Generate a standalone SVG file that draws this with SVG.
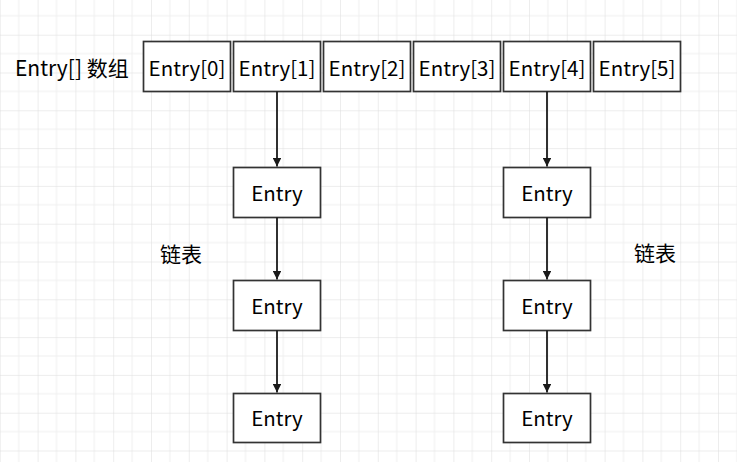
<svg xmlns="http://www.w3.org/2000/svg" width="737" height="462" viewBox="0 0 737 462">
  <defs>
    <pattern id="grid" patternUnits="userSpaceOnUse" x="-0.2" y="-3.1" width="37.8" height="37.8">
      <path d="M18.9 0V37.8M0 18.9H37.8" fill="none" stroke="#efefef" stroke-width="1"/>
      <path d="M0 0V37.8M0 0H37.8" fill="none" stroke="#dcdcdc" stroke-width="1"/>
    </pattern>
    <marker id="arrow" viewBox="0 0 10 10" refX="10" refY="5" markerWidth="4.8" markerHeight="4.8" orient="auto" markerUnits="strokeWidth">
      <path d="M0 0L10 5L0 10Z" fill="#1a1a1a"/>
    </marker>
  </defs>
  <style>
    .box { fill: #ffffff; stroke: #333333; stroke-width: 1.7; }
    .t { font-family: "Noto Sans CJK SC", "Noto Sans", sans-serif; font-size: 20.5px; fill: #000000; text-anchor: middle; }
    .lbl { font-family: "Noto Sans CJK SC", "Noto Sans", sans-serif; font-size: 21px; fill: #000000; }
    .cn { font-family: "Noto Sans CJK SC", sans-serif; font-size: 21px; fill: #000000; text-anchor: middle; }
    .conn { stroke: #1a1a1a; stroke-width: 1.8; fill: none; marker-end: url(#arrow); }
  </style>
  <rect width="737" height="462" fill="#ffffff"/>
  <rect width="737" height="462" fill="url(#grid)"/>

  <text class="lbl" x="15" y="76">Entry[] 数组</text>

  <g id="arr0"><rect class="box" x="143.5" y="41.5" width="87" height="50"/><text class="t" x="187" y="76">Entry[0]</text></g>
  <g id="arr1"><rect class="box" x="233.5" y="41.5" width="87" height="50"/><text class="t" x="277" y="76">Entry[1]</text></g>
  <g id="arr2"><rect class="box" x="323.5" y="41.5" width="87" height="50"/><text class="t" x="367" y="76">Entry[2]</text></g>
  <g id="arr3"><rect class="box" x="413.5" y="41.5" width="87" height="50"/><text class="t" x="457" y="76">Entry[3]</text></g>
  <g id="arr4"><rect class="box" x="503.5" y="41.5" width="87" height="50"/><text class="t" x="547" y="76">Entry[4]</text></g>
  <g id="arr5"><rect class="box" x="593.5" y="41.5" width="87" height="50"/><text class="t" x="637" y="76">Entry[5]</text></g>

  <g id="l1"><rect class="box" x="233.5" y="167.5" width="87" height="50"/><text class="t" x="277" y="200.5">Entry</text></g>
  <g id="l2"><rect class="box" x="233.5" y="280.5" width="87" height="50"/><text class="t" x="277" y="313.5">Entry</text></g>
  <g id="l3"><rect class="box" x="233.5" y="393.5" width="87" height="49"/><text class="t" x="277" y="426">Entry</text></g>

  <g id="r1"><rect class="box" x="503.5" y="167.5" width="87" height="50"/><text class="t" x="547" y="200.5">Entry</text></g>
  <g id="r2"><rect class="box" x="503.5" y="280.5" width="87" height="50"/><text class="t" x="547" y="313.5">Entry</text></g>
  <g id="r3"><rect class="box" x="503.5" y="393.5" width="87" height="49"/><text class="t" x="547" y="426">Entry</text></g>

  <text class="cn" x="181" y="262">链表</text>
  <text class="cn" x="655" y="261">链表</text>

  <g id="connectors">
    <path class="conn" d="M277 91.5V166.5"/>
    <path class="conn" d="M277 217.5V279.5"/>
    <path class="conn" d="M277 330.5V392.5"/>
    <path class="conn" d="M547 91.5V166.5"/>
    <path class="conn" d="M547 217.5V279.5"/>
    <path class="conn" d="M547 330.5V392.5"/>
  </g>
</svg>
